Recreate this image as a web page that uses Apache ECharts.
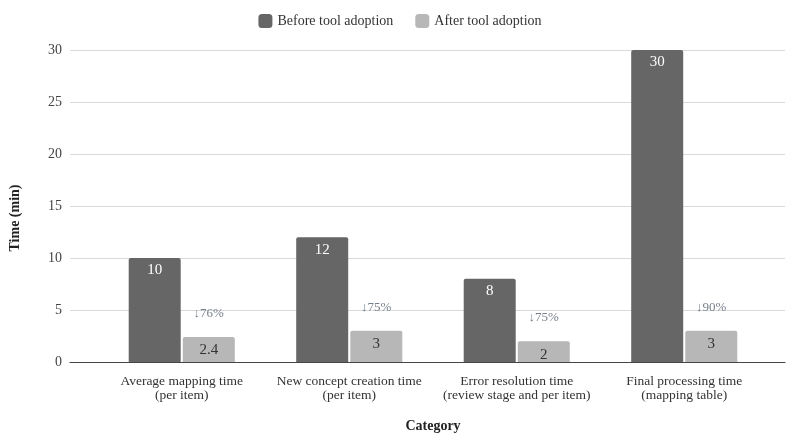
<!DOCTYPE html>
<html>
<head>
<meta charset="utf-8">
<script src="https://cdn.jsdelivr.net/npm/echarts@6/dist/echarts.min.js"></script>
<style>
html,body{margin:0;padding:0;background:#fff;}
#chart{width:800px;height:444px;}
</style>
</head>
<body>
<div id="chart"></div>
<script>
var categories = [
	"Average mapping time\n(per item)",
	"New concept creation time\n(per item)",
	"Error resolution time\n(review stage and per item)",
	"Final processing time\n(mapping table)"
];
var beforeValues = [10, 12, 8, 30];
var afterValues = [2.4, 3, 2, 3];
var dropLabels = ["↓76%", "↓75%", "↓75%", "↓90%"];
var yTicks = { min: 0, max: 30, interval: 5 };

var font = "'Liberation Serif', 'DejaVu Serif', serif";

var chart = echarts.init(document.getElementById("chart"));

var options = {
	backgroundColor: "#fff",
	textStyle: { fontFamily: font },
	legend: {
		top: 9,
		left: "center",
		itemWidth: 14,
		itemHeight: 14,
		itemGap: 22,
		icon: "roundRect",
		textStyle: { fontFamily: font, fontSize: 14, color: "#333" },
		data: ["Before tool adoption", "After tool adoption"]
	},
	grid: [
		{ left: 68, right: 15, top: 50, bottom: 82 },
		{ left: 98, right: 32, top: 50, bottom: 82 }
	],
	xAxis: [{
		type: "category",
		gridIndex: 0,
		data: [""],
		axisLine: { lineStyle: { color: "#444", width: 1.2 } },
		axisTick: { show: false },
		axisLabel: { show: false }
	}, {
		type: "category",
		gridIndex: 1,
		data: categories,
		axisLine: { show: false },
		axisTick: { show: false },
		axisLabel: {
			margin: 12,
			fontFamily: font,
			fontSize: 13.5,
			lineHeight: 14,
			color: "#333",
			interval: 0
		},
		name: "Category",
		nameLocation: "middle",
		nameGap: 57,
		nameTextStyle: { fontFamily: font, fontSize: 14, fontWeight: "bold", color: "#222" }
	}],
	yAxis: [{
		type: "value",
		gridIndex: 0,
		min: yTicks.min,
		max: yTicks.max,
		interval: yTicks.interval,
		axisLine: { show: false },
		axisTick: { show: false },
		axisLabel: { margin: 8, fontFamily: font, fontSize: 14, color: "#444" },
		splitLine: { lineStyle: { color: "#d9d9d9", width: 1 } },
		name: "Time (min)",
		nameLocation: "middle",
		nameGap: 48,
		nameTextStyle: { fontFamily: font, fontSize: 14, fontWeight: "bold", color: "#222", padding: [0, 24, 0, 0] }
	}, {
		type: "value",
		gridIndex: 1,
		min: yTicks.min,
		max: yTicks.max,
		show: false
	}],
	series: [{
		name: "Before tool adoption",
		type: "bar",
		xAxisIndex: 1,
		yAxisIndex: 1,
		barWidth: 52,
		barGap: "4%",
		data: beforeValues,
		itemStyle: { color: "#666666", borderRadius: [2, 2, 0, 0] },
		label: {
			show: true,
			position: "insideTop",
			distance: 5,
			color: "#fff",
			fontFamily: font,
			fontSize: 15
		}
	}, {
		name: "After tool adoption",
		type: "bar",
		xAxisIndex: 1,
		yAxisIndex: 1,
		barWidth: 52,
		data: afterValues,
		itemStyle: { color: "#b7b7b7", borderRadius: [2, 2, 0, 0] },
		label: {
			show: true,
			position: "insideTop",
			distance: 6,
			color: "#333",
			fontFamily: font,
			fontSize: 15
		}
	}, {
		name: "drop",
		type: "scatter",
		xAxisIndex: 1,
		yAxisIndex: 1,
		symbolSize: 0,
		silent: true,
		data: afterValues,
		label: {
			show: true,
			position: "top",
			distance: 17,
			offset: [27, 0],
			color: "#55606e",
			fontFamily: font,
			fontSize: 13,
			formatter: function(p){ return dropLabels[p.dataIndex]; }
		}
	}]
};

chart.setOption(options);
</script>
</body>
</html>
